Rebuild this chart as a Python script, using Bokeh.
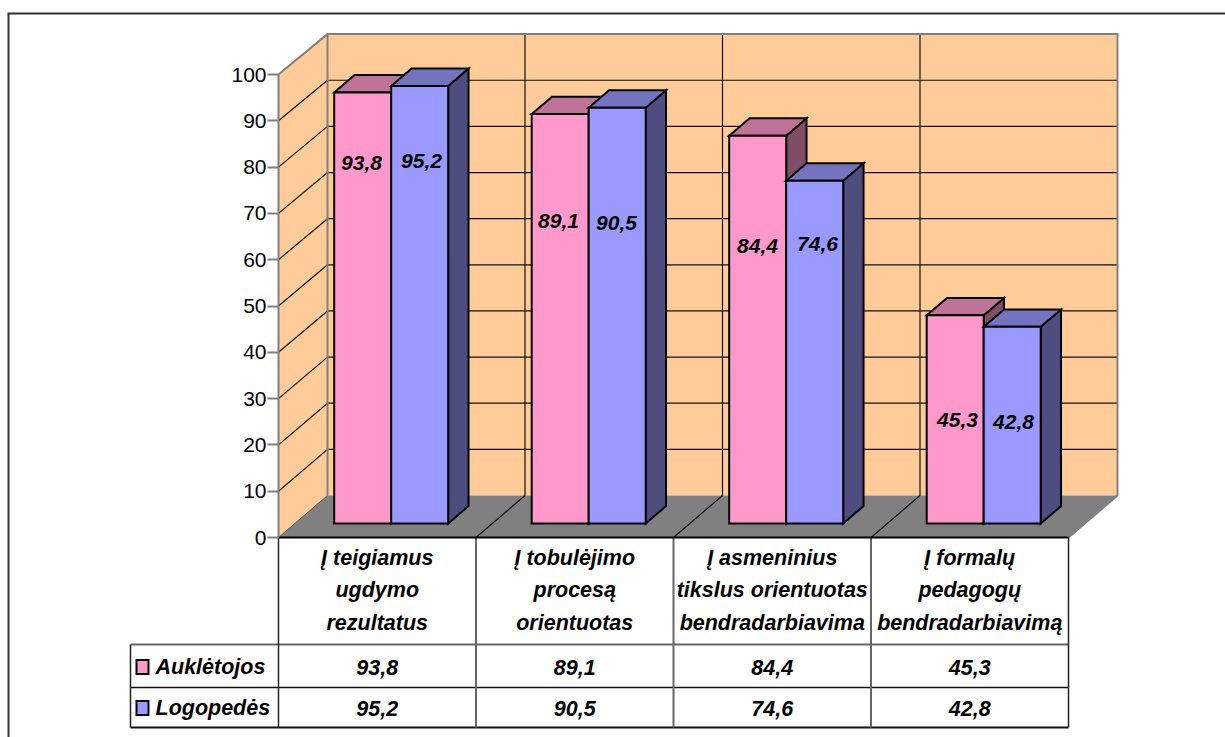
from bokeh.core.properties import value
from bokeh.embed import file_html
from bokeh.models import FixedTicker, LinearAxis, Range1d
from bokeh.plotting import figure
from bokeh.resources import INLINE

# ---- chart data ----
categories = [
    ["Į teigiamus", "ugdymo", "rezultatus"],
    ["Į tobulėjimo", "procesą", "orientuotas"],
    ["Į asmeninius", "tikslus orientuotas", "bendradarbiavima"],
    ["Į formalų", "pedagogų", "bendradarbiavimą"],
]
series_names = ["Auklėtojos", "Logopedės"]
auklėtojos = [93.8, 89.1, 84.4, 45.3]
logopedės = [95.2, 90.5, 74.6, 42.8]
y_ticks = [0, 10, 20, 30, 40, 50, 60, 70, 80, 90, 100]

# ---- layout of the oblique 3D box, in page pixels ----
W, H = 1225, 737
X0, CAT_W = 278.0, 197.5      # left of the front plane, width of one category
Y0, UNIT = 537.0, 4.63        # baseline of the front plane, pixels per value unit
DEPTH_X, DEPTH_Y = 49.0, 42.0  # shift of the back plane


def x_of_px(px):
    return (px - X0) / CAT_W


def y_of_px(py):
    return (Y0 - py) / UNIT


def proj(cat, val, depth=0.0, fore=1.0):
    """Oblique projection of (category position, value, depth 0..1) to plot coordinates."""
    return cat + depth * DEPTH_X / CAT_W, val * fore + depth * DEPTH_Y / UNIT


def poly(*pts):
    return [a for a, _ in pts], [b for _, b in pts]


p = figure(
    width=W, height=H, output_backend="svg", toolbar_location=None,
    x_range=Range1d(x_of_px(0), x_of_px(W)), y_range=Range1d(y_of_px(H), y_of_px(0)),
    x_axis_location=None, y_axis_location=None,
    min_border=0, min_border_left=0, min_border_right=0, min_border_top=0, min_border_bottom=0,
)
p.outline_line_color = None
p.grid.visible = False
p.background_fill_color = "white"
p.border_fill_color = "white"

FONT = value("Liberation Sans")
N = len(categories)
WALL_FORE = 0.9965

# outer frame: only the top and left sides fall on the page
p.line([x_of_px(8), x_of_px(8), x_of_px(W)], [y_of_px(H), y_of_px(13), y_of_px(13)],
       line_color="#333333", line_width=2, line_join="miter")

# side wall, back wall, floor
sx, sy = poly(proj(0, 0), proj(0, 0, 1), proj(0, 100, 1, WALL_FORE), proj(0, 100))
p.patch(sx, sy, fill_color="#FFCC99", line_color=None)
bx, by = poly(proj(0, 0, 1), proj(N, 0, 1), proj(N, 100, 1, WALL_FORE), proj(0, 100, 1, WALL_FORE))
p.patch(bx, by, fill_color="#FFCC99", line_color=None)
fx, fy = poly(proj(0, 0), proj(N, 0), proj(N, 0, 1), proj(0, 0, 1))
p.patch(fx, fy, fill_color="#808080", line_color=None)

# value gridlines across both walls
for v in y_ticks[1:-1]:
    gx, gy = poly(proj(0, v), proj(0, v, 1, WALL_FORE), proj(N, v, 1, WALL_FORE))
    p.line(gx, gy, line_color="#111111", line_width=1.2)

# category dividers up the back wall and across the floor
for k in range(1, N):
    gx, gy = poly(proj(k, 0), proj(k, 0, 1), proj(k, 100, 1, WALL_FORE))
    p.line(gx, gy, line_color="#111111", line_width=1.2)

# wall outlines
wx, wy = poly(proj(0, 100), proj(0, 100, 1, WALL_FORE), proj(N, 100, 1, WALL_FORE), proj(N, 0, 1), proj(N, 0))
p.line(wx, wy, line_color="#808080", line_width=2, line_join="miter")
wx, wy = poly(proj(0, 0, 1), proj(0, 100, 1, WALL_FORE))
p.line(wx, wy, line_color="#808080", line_width=2)
wx, wy = poly(proj(0, 0), proj(0, 0, 1))
p.line(wx, wy, line_color="#555555", line_width=1)

# bars
BAR_FORE = 0.9925
D0, D1 = 0.333, 0.748
BAR_W = 57.0 / CAT_W
SHIFT = 0.488


def bar(left, right, v, front, top, side):
    a = (left, 0, D0, 1)
    b = (right, 0, D0, 1)
    c = (right, v, D0, BAR_FORE)
    d = (left, v, D0, BAR_FORE)
    e = (left, v, D1, BAR_FORE)
    f = (right, v, D1, BAR_FORE)
    g = (right, 0, D1, 1)
    style = dict(line_color="black", line_width=2, line_join="miter")
    xs, ys = poly(proj(*b), proj(*g), proj(*f), proj(*c))
    p.patch(xs, ys, fill_color=side, **style)
    xs, ys = poly(proj(*d), proj(*c), proj(*f), proj(*e))
    p.patch(xs, ys, fill_color=top, **style)
    xs, ys = poly(proj(*a), proj(*b), proj(*c), proj(*d))
    p.patch(xs, ys, fill_color=front, **style)


PINK = ("#FF99CC", "#BF7399", "#804D66")
BLUE = ("#9999FF", "#7373BF", "#4D4D80")
for k, (a_val, l_val) in enumerate(zip(auklėtojos, logopedės)):
    mid = k + SHIFT
    bar(mid - BAR_W, mid, a_val, *PINK)
    bar(mid, mid + BAR_W, l_val, *BLUE)

# numbers printed on the bars
on_bar_px = [(361, 162), (421, 160), (558, 220), (616, 222),
             (757, 245), (817, 243), (957, 419), (1013, 421)]
on_bar_vals = [v for pair in zip(auklėtojos, logopedės) for v in pair]
p.text(
    [x_of_px(a) for a, _ in on_bar_px], [y_of_px(b) for _, b in on_bar_px],
    text=[f"{v:.1f}".replace(".", ",") for v in on_bar_vals],
    text_font=FONT, text_font_style="bold italic", text_font_size="21px",
    text_align="center", text_baseline="middle", text_color="black",
)

# value axis along the front edge of the side wall
axis = LinearAxis(
    ticker=FixedTicker(ticks=y_ticks), fixed_location=0, bounds=(0, 100),
    axis_line_color="#808080", axis_line_width=2,
    major_tick_line_color="#808080", major_tick_line_width=2,
    major_tick_in=0, major_tick_out=11, minor_tick_line_color=None,
    major_label_standoff=1, major_label_text_font="Liberation Sans",
    major_label_text_font_size="21px", major_label_text_color="black",
)
p.add_layout(axis, "left")

# data table: rules
ROW_PX = [644, 687, 727]
TABLE_LEFT = 130
TABLE_TOP = 537
for i, py in enumerate(ROW_PX):
    color = "#666666" if i == 0 else "#111111"
    p.line([x_of_px(TABLE_LEFT), N], [y_of_px(py)] * 2, line_color=color, line_width=2 if i != 1 else 1.5)
p.line([x_of_px(TABLE_LEFT)] * 2, [y_of_px(ROW_PX[0]), y_of_px(ROW_PX[2])], line_color="#222222", line_width=1.5)
for k in range(N + 1):
    color = "#222222" if k in (0, N) else "#666666"
    p.line([k, k], [y_of_px(TABLE_TOP), y_of_px(ROW_PX[2])], line_color=color, line_width=1.5 if k in (0, N) else 2)

# front edge of the floor
p.line([0, N], [0, 0], line_color="black", line_width=2)

# data table: category names
LINE_PX = [557, 589.5, 622]
for k, lines in enumerate(categories):
    p.text([k + 0.5] * 3, [y_of_px(py) for py in LINE_PX], text=lines,
           text_font=FONT, text_font_style="bold italic", text_font_size="21.5px",
           text_align="center", text_baseline="middle", text_color="black")

# data table: legend keys, series names and values
ROW_MID_PX = [666.5, 707.5]
KEY_COLORS = [PINK[0], BLUE[0]]
for name, vals, ym, key in zip(series_names, [auklėtojos, logopedės], ROW_MID_PX, KEY_COLORS):
    kx, ky = poly((x_of_px(136), y_of_px(ym - 7)), (x_of_px(148), y_of_px(ym - 7)),
                  (x_of_px(148), y_of_px(ym + 7)), (x_of_px(136), y_of_px(ym + 7)))
    p.patch(kx, ky, fill_color=key, line_color="black", line_width=2, line_join="miter")
    p.text([x_of_px(155)], [y_of_px(ym)], text=[name], text_font=FONT, text_font_style="bold italic",
           text_font_size="21.5px", text_align="left", text_baseline="middle", text_color="black")
    p.text([k + 0.5 for k in range(N)], [y_of_px(ym)] * N,
           text=[f"{v:.1f}".replace(".", ",") for v in vals], text_font=FONT, text_font_style="bold italic",
           text_font_size="21.5px", text_align="center", text_baseline="middle", text_color="black")

open("out.html", "w").write(file_html(p, INLINE))
